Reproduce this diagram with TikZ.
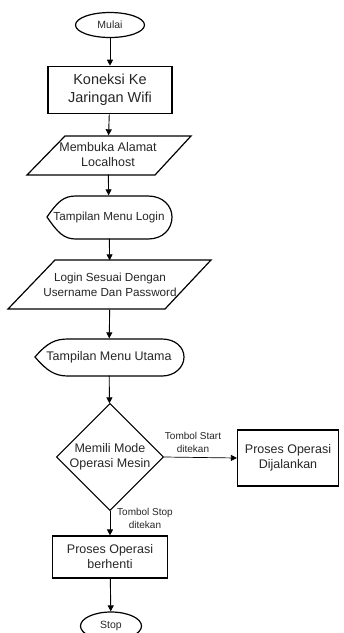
\documentclass[tikz,border=0pt]{standalone}
\usepackage{fontspec}
\setmainfont{Liberation Sans}
\usetikzlibrary{shapes.geometric,arrows.meta}
\begin{document}
\begin{tikzpicture}[x=1pt, y=-1pt,
    teks/.style={font=\fontsize{12.5}{15}\selectfont, align=center, inner sep=0pt, text=black!85},
    kecil/.style={font=\fontsize{10}{13}\selectfont, align=center, inner sep=0pt, text=black!85},
    garis/.style={line width=1.2pt},
    panah/.style={-{Triangle[length=6pt,width=6pt]}, line width=0.9pt}]
    \useasboundingbox (0,0) rectangle (344,633);

    % 开始 / 结束
    \node[teks, font=\fontsize{10.5}{13}\selectfont, ellipse, draw, garis, minimum width=69pt, minimum height=25pt] (mulai) at (110,25) {Mulai};
    \node[teks, font=\fontsize{10.5}{13}\selectfont, ellipse, draw, garis, minimum width=61pt, minimum height=28pt] (stop) at (111,626) {Stop};

    % 处理框
    \node[teks, font=\fontsize{14.5}{18}\selectfont, draw, line width=1.6pt, minimum width=124pt, minimum height=47pt] (koneksi) at (110,90) {Koneksi Ke\\Jaringan Wifi};
    \node[teks, draw, garis, minimum width=101pt, minimum height=56pt] (jalan) at (288,458) {Proses Operasi\\Dijalankan};
    \node[teks, draw, garis, minimum width=115pt, minimum height=42pt] (henti) at (110,557) {Proses Operasi\\berhenti};

    % 输入 (平行四边形)
    \node[teks, minimum height=39pt] (alamat) at (108,155) {Membuka Alamat\\Localhost};
    \draw[garis] (65,136) -- (191,136) -- (155,175) -- (27,175) -- cycle;
    \node[teks, font=\fontsize{11.7}{15}\selectfont, minimum height=49pt] (masuk) at (110,285) {Login Sesuai Dengan\\Username Dan Password};
    \draw[garis] (55,260) -- (211,260) -- (165,309) -- (8,309) -- cycle;

    % 显示
    \node[teks, font=\fontsize{11.7}{15}\selectfont, minimum height=43pt] (login) at (109,217) {Tampilan Menu Login};
    \draw[garis] (47,217) .. controls (58,201) and (64,196) .. (76,196) -- (148,196)
        .. controls (163,196) and (172,206) .. (172,217)
        .. controls (172,229) and (163,239) .. (148,239) -- (76,239)
        .. controls (64,239) and (58,233) .. (47,217) -- cycle;
    \node[teks, minimum height=37pt] (utama) at (109,357) {Tampilan Menu Utama};
    \draw[garis] (35,357) .. controls (47,343) and (55,339) .. (68,339) -- (162,339)
        .. controls (175,339) and (184,347) .. (184,357)
        .. controls (184,367) and (175,376) .. (162,376) -- (68,376)
        .. controls (55,376) and (47,371) .. (35,357) -- cycle;

    % 判断
    \node[teks, diamond, draw, garis, minimum width=100pt, minimum height=102pt, aspect=1] (mode) at (110,457) {Memili Mode\\Operasi Mesin};

    % 连线
    \draw[panah] (mulai) -- (koneksi);
    \draw[panah] (koneksi) -- (alamat);
    \draw[panah] (alamat) -- (login);
    \draw[panah] (login) -- (masuk);
    \draw[panah] (masuk) -- (utama);
    \draw[panah] (utama) -- (mode);
    \draw[panah, line width=0.7pt] (mode.east) -- (jalan.west);
    \draw[panah] (mode) -- (henti);
    \draw[panah] (henti) -- (stop);

    % 条件标签
    \node[kecil] (lblmulai) at (193,442) {Tombol Start\\ditekan};
    \node[kecil] (lblhenti) at (145,518) {Tombol Stop\\ditekan};
\end{tikzpicture}
\end{document}
